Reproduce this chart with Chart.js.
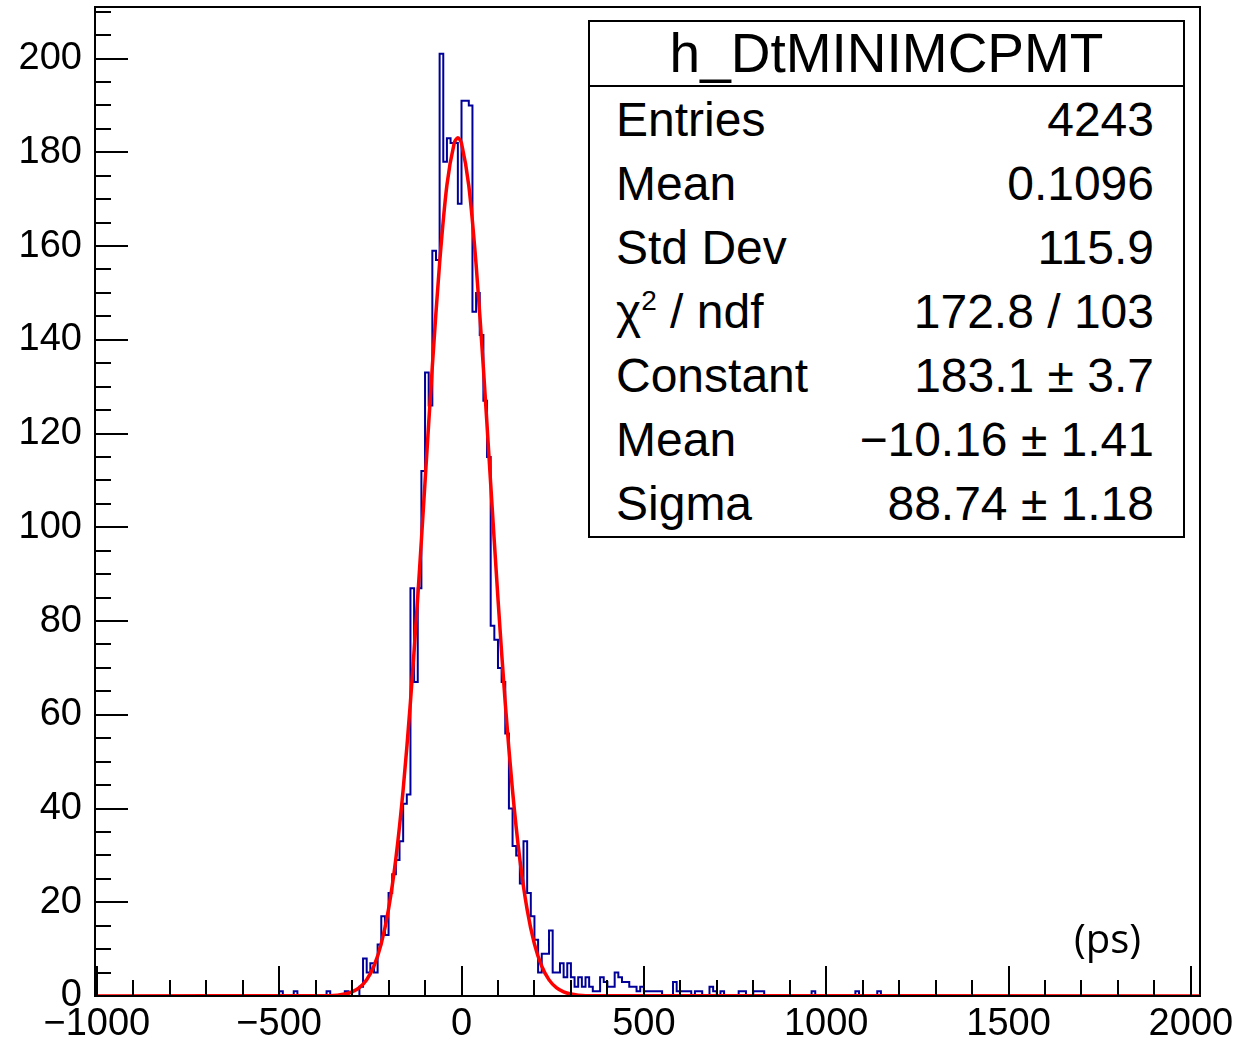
<!DOCTYPE html>
<html>
<head>
<meta charset="utf-8">
<script src="https://cdn.jsdelivr.net/npm/chart.js@4.4.1/dist/chart.umd.min.js"></script>
<style>
  html, body { margin: 0; padding: 0; background: #fff; }
  #wrap { position: relative; width: 1239px; height: 1045px; }
  #chart { position: absolute; left: 0; top: 0; }
  .stats {
    position: absolute; left: 588px; top: 20px; width: 597px; height: 518px;
    border: 2px solid #000; box-sizing: border-box; background: #fff;
    font-family: "Liberation Sans", Arial, sans-serif; color: #000;
  }
  .stats .title {
    height: 63px; line-height: 63px; border-bottom: 2px solid #000;
    text-align: center; font-size: 55px;
  }
  .stats .row {
    display: flex; justify-content: space-between; align-items: center;
    height: 64px; padding: 0 29px 0 26px; font-size: 48px;
  }
  .stats sup { font-size: 28px; vertical-align: 18px; line-height: 0; }
  .unit {
    position: absolute; left: 1074px; top: 910px;
    font-family: "Open Sans", sans-serif; font-size: 40px; color: #000;
  }
</style>
</head>
<body>
<div id="wrap">
  <canvas id="chart" width="1239" height="1045"></canvas>
  <div class="stats" id="stats"></div>
  <div class="unit">(ps)</div>
</div>
<script>
// histogram: 10 ps bins, first bin starts at -500
const binStart = -500;
const binWidth = 10;
const counts = [
  1, 0, 0, 0, 1, 0, 0, 0, 0, 0,              // -500 .. -400
  0, 0, 0, 1, 0, 0, 0, 0, 1, 0,              // -400 .. -300
  0, 0, 2, 8, 5, 7, 5, 11, 17, 13,           // -300 .. -200
  22, 26, 29, 33, 41, 43, 87, 67, 87, 112,   // -200 .. -100
  133, 126, 159, 157, 201, 178, 183, 182, 182, 169, // -100 .. 0
  191, 191, 190, 146, 150, 141, 127, 115, 79, 76,   // 0 .. 100
  70, 67, 56, 40, 32, 30, 24, 33, 22, 17,    // 100 .. 200
  12, 5, 9, 9, 14, 5, 5, 7, 4, 7,            // 200 .. 300
  4, 2, 4, 2, 4, 2, 1, 1, 4, 3,              // 300 .. 400
  2, 2, 5, 4, 3, 3, 2, 2, 1, 2,              // 400 .. 500
  1, 1, 1, 1, 1, 0, 0, 0, 3, 1,              // 500 .. 600
  1, 1, 1, 0, 1, 1, 0, 0, 2, 1,              // 600 .. 700
  0, 1, 0, 0, 0, 0, 1, 1, 0, 0,              // 700 .. 800
  1, 1, 1, 0, 0, 0, 0, 0, 0, 0,              // 800 .. 900
  0, 0, 0, 0, 0, 0, 1, 0, 0, 0,              // 900 .. 1000
  0, 0, 0, 0, 0, 0, 0, 0, 1, 0,              // 1000 .. 1100
  0, 0, 0, 0, 1, 0                           // 1100 .. 1160
];

// gaussian fit curve
const fitX = [-360, -340, -320, -300, -280, -260, -240, -220, -200, -180, -160, -140, -120, -100,
  -80, -60, -40, -20, -10, 0, 20, 40, 60, 80, 100, 120, 140, 160, 180, 200, 220, 240, 260, 280, 300, 320, 340];
const fitY = [0.08, 0.18, 0.41, 0.88, 1.8, 3.48, 6.4, 11.17, 18.57, 29.33, 44.02, 62.78, 85.11, 109.68,
  134.34, 156.39, 173.03, 181.98, 183.1, 181.9, 172.83, 156.08, 133.96, 109.27, 84.74, 62.45, 43.74, 29.13,
  18.43, 11.08, 6.34, 3.44, 1.78, 0.87, 0.41, 0.18, 0.08];

const xRange = [-1005, 2025];
const yRange = [0, 211];
const xTickValues = [-1000, -500, 0, 500, 1000, 1500, 2000];
const yTickValues = [0, 20, 40, 60, 80, 100, 120, 140, 160, 180, 200];

const statsTitle = 'h_DtMINIMCPMT';
const statsLabels = ['Entries', 'Mean', 'Std Dev', 'χ<sup>2</sup> / ndf', 'Constant', 'Mean', 'Sigma'];
const statsValues = ['4243', '0.1096', '115.9', '172.8 / 103', '183.1 ± 3.7', '−10.16 ± 1.41', '88.74 ± 1.18'];

const statsBox = document.querySelector('#stats');
statsBox.innerHTML = `<div class="title">${statsTitle}</div>` +
  statsLabels.map((l, i) => `<div class="row"><span>${l}</span><span>${statsValues[i]}</span></div>`).join('');

const histPoints = [{ x: xRange[0], y: 0 }];
counts.forEach((c, i) => histPoints.push({ x: binStart + i * binWidth, y: c }));
histPoints.push({ x: binStart + counts.length * binWidth, y: 0 });
histPoints.push({ x: xRange[1], y: 0 });

const fitPoints = [{ x: xRange[0], y: 0 }]
  .concat(fitX.map((x, i) => ({ x, y: fitY[i] })))
  .concat([{ x: xRange[1], y: 0 }]);

const fmt = (v) => (v < 0 ? '\u2212' + Math.abs(v) : String(v));

// ROOT style frame with inward ticks
const rootFrame = {
  id: 'rootFrame',
  afterDatasetsDraw(chart) {
    const { ctx, chartArea: a, scales: { x, y } } = chart;
    ctx.save();
    ctx.strokeStyle = '#000';
    ctx.lineWidth = 2;
    ctx.beginPath();
    for (let v = -1000; v <= 2000; v += 100) {
      const px = Math.round(x.getPixelForValue(v));
      const len = v % 500 === 0 ? 30 : 16;
      ctx.moveTo(px, a.bottom);
      ctx.lineTo(px, a.bottom - len);
    }
    for (let v = 0; v <= 210; v += 5) {
      const py = Math.round(y.getPixelForValue(v));
      const len = v % 20 === 0 ? 33 : 16;
      ctx.moveTo(a.left, py);
      ctx.lineTo(a.left + len, py);
    }
    ctx.stroke();
    ctx.strokeRect(a.left, a.top, a.right - a.left, a.bottom - a.top);
    ctx.restore();
  }
};

const tickFont = { family: 'Liberation Sans', size: 38 };

new Chart(document.querySelector('#chart'), {
  type: 'line',
  data: {
    datasets: [
      {
        label: 'fit',
        data: fitPoints,
        borderColor: '#ff0000',
        borderWidth: 3.5,
        pointRadius: 0,
        tension: 0.3,
        order: 0
      },
      {
        label: 'h_DtMINIMCPMT',
        data: histPoints,
        borderColor: '#000099',
        borderWidth: 2,
        pointRadius: 0,
        stepped: 'before',
        order: 1
      }
    ]
  },
  options: {
    responsive: false,
    animation: false,
    devicePixelRatio: 1,
    layout: { padding: { top: 7, right: 39, left: 0, bottom: 0 } },
    plugins: {
      legend: { display: false },
      tooltip: { enabled: false }
    },
    scales: {
      x: {
        type: 'linear',
        min: xRange[0],
        max: xRange[1],
        grid: { display: false, drawTicks: false },
        border: { display: false },
        afterBuildTicks: (s) => { s.ticks = xTickValues.map((v) => ({ value: v })); },
        afterFit: (s) => { s.height = 49; s.paddingLeft = 0; s.paddingRight = 0; },
        ticks: {
          autoSkip: false, maxRotation: 0, minRotation: 0,
          padding: 6, color: '#000', font: tickFont,
          callback: (v) => fmt(v)
        }
      },
      y: {
        type: 'linear',
        min: yRange[0],
        max: yRange[1],
        grid: { display: false, drawTicks: false },
        border: { display: false },
        afterBuildTicks: (s) => { s.ticks = yTickValues.map((v) => ({ value: v })); },
        afterFit: (s) => { s.width = 95; s.paddingTop = 0; s.paddingBottom = 0; },
        ticks: {
          autoSkip: false, padding: 13, color: '#000', font: tickFont,
          callback: (v) => fmt(v)
        }
      }
    }
  },
  plugins: [rootFrame]
});
</script>
</body>
</html>
